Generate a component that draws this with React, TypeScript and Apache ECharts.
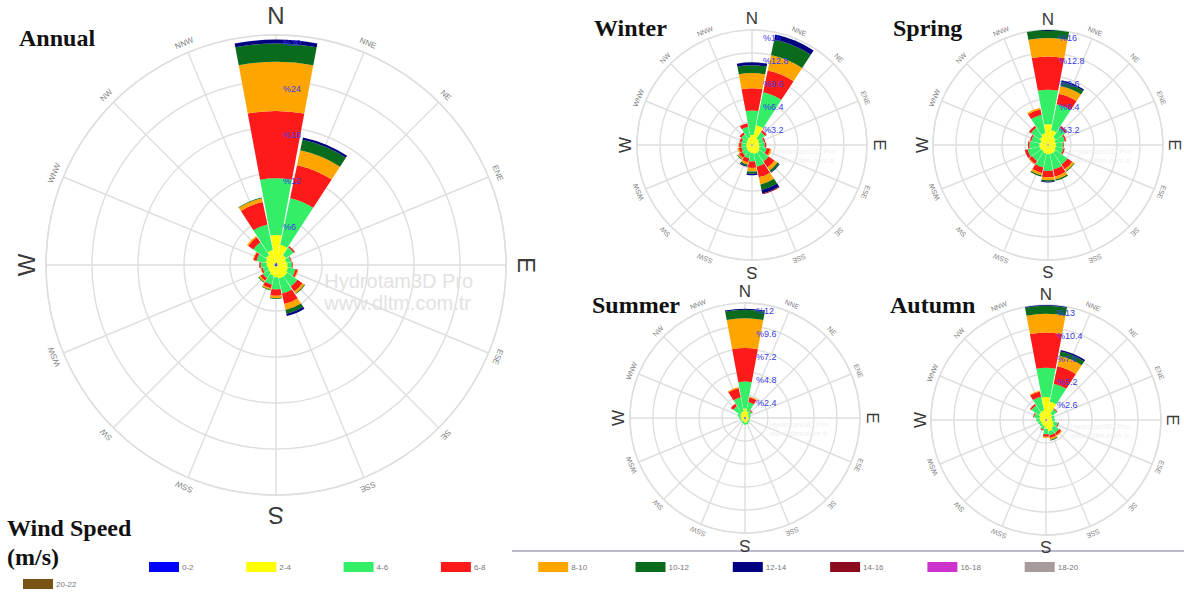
import { useEffect, useRef } from "react";
import * as echarts from "echarts";

// ---------- categories ----------
const DIRECTIONS = ["N", "NNE", "NE", "ENE", "E", "ESE", "SE", "SSE", "S", "SSW", "SW", "WSW", "W", "WNW", "NW", "NNW"];
const SPEED_CLASSES = ["0-2", "2-4", "4-6", "6-8", "8-10", "10-12", "12-14", "14-16", "16-18", "18-20", "20-22"];
const SPEED_COLORS = ["#0000ff", "#ffff00", "#33ee66", "#ff1a1a", "#ffa500", "#0b6b1c", "#000080", "#8b0a1e", "#cc33cc", "#a89b9b", "#7b5314"];

// ---------- frequency (%) per direction (rows, DIRECTIONS order) and speed class (columns) ----------
const ANNUAL: number[][] = [
  [0.3, 3.6, 7.4, 8.8, 6.4, 2.4, 0.5],
  [0.3, 2.4, 6.2, 4.4, 2.0, 1.4, 0.3],
  [0.2, 1.4, 1.2, 0.2],
  [0.2, 1.2, 0.6, 0.1],
  [0.2, 1.3, 0.6, 0.1],
  [0.2, 1.4, 1.0, 0.3, 0.1],
  [0.2, 1.6, 1.6, 0.8, 0.3, 0.1],
  [0.2, 1.6, 2.0, 1.4, 0.8, 0.5, 0.3],
  [0.2, 1.4, 1.6, 0.8, 0.3, 0.1],
  [0.2, 1.2, 1.2, 0.5, 0.2, 0.1],
  [0.2, 1.0, 0.9, 0.4, 0.2, 0.1],
  [0.2, 0.9, 0.7, 0.2, 0.1],
  [0.2, 1.0, 0.8, 0.2],
  [0.2, 1.2, 1.2, 0.4, 0.1],
  [0.2, 1.4, 2.0, 0.8, 0.2],
  [0.2, 1.8, 3.4, 3.0, 0.5, 0.1],
];
const WINTER: number[][] = [
  [0.1, 1.3, 3.4, 3.1, 2.1, 1.1, 0.4],
  [0.1, 2.7, 4.7, 3.1, 2.2, 2.2, 0.7],
  [0.1, 1.0, 1.1, 0.3],
  [0.1, 0.9, 0.7, 0.2],
  [0.1, 0.9, 0.8, 0.2],
  [0.1, 1.0, 1.0, 0.5, 0.2],
  [0.1, 1.2, 1.5, 1.0, 0.5, 0.3, 0.1],
  [0.1, 1.2, 1.8, 1.5, 1.0, 0.8, 0.5, 0.1],
  [0.1, 1.0, 1.2, 0.9, 0.5, 0.3, 0.2],
  [0.1, 0.9, 0.9, 0.6, 0.3, 0.2, 0.1],
  [0.1, 0.8, 0.8, 0.5, 0.2, 0.1],
  [0.1, 0.7, 0.7, 0.4, 0.2],
  [0.1, 0.7, 0.7, 0.3, 0.1],
  [0.1, 0.7, 0.7, 0.3],
  [0.1, 0.8, 0.9, 0.3],
  [0.1, 1.0, 1.5, 0.5],
];
const SPRING: number[][] = [
  [0.1, 2.8, 4.8, 4.6, 2.6, 1.1, 0.2],
  [0.1, 2.0, 3.7, 1.5, 1.1, 0.6, 0.2],
  [0.1, 1.2, 1.6, 0.3],
  [0.1, 1.0, 1.3, 0.2],
  [0.1, 1.0, 1.0, 0.1],
  [0.1, 1.0, 1.1, 0.2],
  [0.1, 1.2, 2.0, 0.8, 0.3, 0.1],
  [0.1, 1.2, 2.2, 1.0, 0.4, 0.2],
  [0.1, 1.2, 2.3, 0.9, 0.4, 0.2, 0.1],
  [0.1, 1.1, 2.0, 0.8, 0.3, 0.2],
  [0.1, 1.0, 1.6, 0.5, 0.1],
  [0.1, 1.1, 1.7, 0.4],
  [0.1, 1.1, 1.4, 0.2],
  [0.1, 1.0, 1.3, 0.2],
  [0.1, 1.3, 1.5, 0.3],
  [0.1, 1.6, 2.6, 0.8, 0.2],
];
const SUMMER: number[][] = [
  [0.1, 0.9, 2.8, 3.5, 3.1, 0.9, 0.1],
  [0.1, 0.6, 1.0, 0.5, 0.1],
  [0.1, 0.4, 0.4, 0.1],
  [0.1, 0.3, 0.2],
  [0.1, 0.3, 0.1],
  [0.1, 0.3, 0.1],
  [0.1, 0.3, 0.2],
  [0.1, 0.4, 0.2],
  [0.1, 0.4, 0.2],
  [0.1, 0.3, 0.2],
  [0.1, 0.3, 0.1],
  [0.1, 0.3, 0.1],
  [0.1, 0.3, 0.2],
  [0.1, 0.4, 0.3],
  [0.1, 0.5, 0.9, 0.3],
  [0.1, 0.6, 1.5, 1.0, 0.1],
];
const AUTUMN: number[][] = [
  [0.1, 2.5, 3.3, 4.0, 2.1, 0.9, 0.2],
  [0.1, 2.0, 2.1, 2.0, 1.2, 0.5, 0.2],
  [0.1, 0.8, 0.6, 0.1],
  [0.1, 0.6, 0.3],
  [0.1, 0.6, 0.3],
  [0.1, 0.8, 0.5, 0.1],
  [0.1, 1.0, 0.7, 0.3, 0.1],
  [0.1, 1.2, 0.5, 0.3, 0.2, 0.1],
  [0.1, 0.9, 0.6, 0.3, 0.1],
  [0.1, 0.6, 0.4, 0.1],
  [0.1, 0.5, 0.3],
  [0.1, 0.5, 0.3],
  [0.1, 0.6, 0.4],
  [0.1, 0.7, 0.6, 0.1],
  [0.1, 0.9, 1.0, 0.2],
  [0.1, 1.0, 1.6, 0.6, 0.1],
];

// radial axis (max, tick step) per rose
const ANNUAL_SCALE = [30, 6];
const WINTER_SCALE = [16, 3.2];
const SPRING_SCALE = [16, 3.2];
const SUMMER_SCALE = [12, 2.4];
const AUTUMN_SCALE = [13, 2.6];

// ---------- layout ----------
const ROSES = [
  { title: "Annual", data: ANNUAL, scale: ANNUAL_SCALE, cx: 276, cy: 265, R: 230, tx: 19, ty: 38, big: 24, small: 8, bigOff: 20, smallOff: 10, margin: -7, wm: 20, wmColor: "#e2e2e2" },
  { title: "Winter", data: WINTER, scale: WINTER_SCALE, cx: 752, cy: 145, R: 115, tx: 594, ty: 28, big: 17, small: 7, bigOff: 12, smallOff: 8, margin: -11, wm: 8, wmColor: "#efefef" },
  { title: "Spring", data: SPRING, scale: SPRING_SCALE, cx: 1048, cy: 145, R: 115, tx: 893, ty: 28, big: 17, small: 7, bigOff: 11, smallOff: 8, margin: -11, wm: 8, wmColor: "#efefef" },
  { title: "Summer", data: SUMMER, scale: SUMMER_SCALE, cx: 745, cy: 418, R: 115, tx: 592, ty: 305, big: 17, small: 7, bigOff: 12, smallOff: 8, margin: -11, wm: 8, wmColor: "#efefef" },
  { title: "Autumn", data: AUTUMN, scale: AUTUMN_SCALE, cx: 1046, cy: 420, R: 115, tx: 890, ty: 305, big: 17, small: 7, bigOff: 11, smallOff: 8, margin: -11, wm: 8, wmColor: "#efefef" },
];

const GRID = "#dedede";
const SANS = '"Liberation Sans", Arial, sans-serif';
const SERIF = '"Liberation Serif", "Times New Roman", serif';

function fmtPct(v: number) {
  if (v === 0) return "";
  return "%" + String(Number(v.toFixed(1)));
}

function buildOption() {
  const polar: any[] = [];
  const angleAxis: any[] = [];
  const radiusAxis: any[] = [];
  const series: any[] = [];
  const graphic: any[] = [];
  const hidden = { axisLine: { show: false }, axisTick: { show: false }, axisLabel: { show: false }, splitLine: { show: false } };

  ROSES.forEach((rose, k) => {
    const [max, step] = rose.scale;
    const g = 3 * k, b = 3 * k + 1, l = 3 * k + 2;
    for (let i = 0; i < 3; i++) polar.push({ center: [rose.cx, rose.cy], radius: rose.R });

    angleAxis.push({
      polarIndex: g, type: "value", min: 0, max: 360, interval: 22.5, startAngle: 90,
      axisLine: { show: true, lineStyle: { color: GRID, width: 1.4 } },
      axisTick: { show: false }, axisLabel: { show: false },
      splitLine: { show: true, lineStyle: { color: GRID, width: 1.4 } },
    });
    angleAxis.push({ polarIndex: b, type: "category", data: DIRECTIONS, startAngle: 90 + 11.25, ...hidden });
    angleAxis.push({ polarIndex: l, type: "value", min: 0, max: 360, startAngle: 90, ...hidden });

    radiusAxis.push({
      polarIndex: g, type: "value", min: 0, max, interval: step,
      axisLine: { show: false }, axisTick: { show: false }, axisLabel: { show: false },
      splitLine: { show: true, lineStyle: { color: GRID, width: 1.4 } },
    });
    radiusAxis.push({ polarIndex: b, type: "value", min: 0, max, ...hidden });
    radiusAxis.push({
      polarIndex: l, type: "value", min: 0, max, interval: step, z: 10,
      axisLine: { show: false }, axisTick: { show: false }, splitLine: { show: false },
      axisLabel: {
        show: true, margin: rose.margin, align: "left", verticalAlign: "top", padding: [3, 0, 0, 0],
        color: "#3a3ae6", fontSize: 9, fontFamily: SANS, formatter: (v: number) => fmtPct(v),
      },
    });

    SPEED_CLASSES.forEach((cls, c) => {
      series.push({
        type: "bar", name: cls, coordinateSystem: "polar", polarIndex: b, stack: "rose" + k,
        data: DIRECTIONS.map((_, d) => rose.data[d][c] ?? 0),
        itemStyle: { color: SPEED_COLORS[c] }, barCategoryGap: "6%", silent: true, z: 3,
      });
    });

    // compass direction labels around the rose, rotated with their bearing
    DIRECTIONS.forEach((d, i) => {
      const cardinal = i % 4 === 0;
      const rr = rose.R + (cardinal ? rose.bigOff : rose.smallOff);
      const th = (i * 22.5 * Math.PI) / 180;
      graphic.push({
        type: "text", x: rose.cx + rr * Math.sin(th), y: rose.cy - rr * Math.cos(th), rotation: -th, z: 5,
        style: {
          text: d, align: "center", verticalAlign: "middle",
          fill: cardinal ? "#3a3a3a" : "#808080",
          font: `${cardinal ? rose.big : rose.small}px ${SANS}`,
        },
      });
    });

    graphic.push({
      type: "text", x: rose.tx, y: rose.ty, z: 20,
      style: { text: rose.title, fill: "#111", font: `bold 24px ${SERIF}`, verticalAlign: "middle", align: "left" },
    });
    const wx = rose.cx + rose.R * 0.21;
    const wy = rose.cy + rose.R * 0.02;
    graphic.push({
      type: "text", x: wx, y: wy, z: 1,
      style: { text: "Hydrotam3D Pro\nwww.dltm.com.tr", fill: rose.wmColor, font: `${rose.wm}px ${SANS}`, verticalAlign: "top", align: "left", lineHeight: rose.wm * 1.1 },
    });
  });

  graphic.push({ type: "text", x: 7, y: 528, style: { text: "Wind Speed", fill: "#111", font: `bold 24px ${SERIF}`, verticalAlign: "middle" } });
  graphic.push({ type: "text", x: 7, y: 557, style: { text: "(m/s)", fill: "#111", font: `bold 24px ${SERIF}`, verticalAlign: "middle" } });
  graphic.push({ type: "line", shape: { x1: 512, y1: 551, x2: 1184, y2: 551 }, style: { stroke: "#a4a4bc", lineWidth: 1.5 } });

  const legend = SPEED_CLASSES.map((cls, i) => ({
    data: [cls],
    left: i < 10 ? 144 + i * 97.3 : 18,
    top: i < 10 ? 557 : 574,
    icon: "rect", itemWidth: 30, itemHeight: 10, itemGap: 0, selectedMode: false,
    textStyle: { fontSize: 8, color: "#777", fontFamily: SANS, padding: [0, 0, 0, -2] },
  }));

  return {
    animation: false,
    backgroundColor: "#ffffff",
    textStyle: { fontFamily: SANS },
    polar, angleAxis, radiusAxis, series, legend, graphic,
  };
}

export default function App() {
  const ref = useRef<HTMLDivElement>(null);
  useEffect(() => {
    document.body.style.margin = "0";
    if (!ref.current) return;
    const chart = echarts.init(ref.current, undefined, { renderer: "svg" });
    chart.setOption(buildOption() as any);
    return () => chart.dispose();
  }, []);
  return <div ref={ref} style={{ width: 1184, height: 592 }} />;
}
